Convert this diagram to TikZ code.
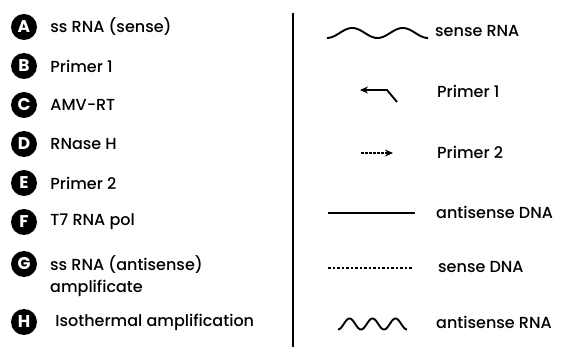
\documentclass[tikz,border=0pt]{standalone}
\usepackage{fontspec}
\setmainfont{Poppins}[UprightFont={* Medium}, BoldFont={* Bold}]
\usetikzlibrary{arrows.meta,positioning}

\tikzset{
  badge/.style={circle, fill=black, text=white, font=\bfseries\fontsize{17}{19}\selectfont, inner sep=0pt, minimum size=26pt},
  itemtext/.style={anchor=west, font=\fontsize{16}{22}\selectfont, inner sep=0pt},
  strand/.style={line width=1.9pt},
}

\begin{document}
\begin{tikzpicture}[x=1pt,y=-1pt]
\useasboundingbox (0,0) rectangle (565,352);
% key letters
\node[badge] (A) at (24,27) {A};
\node[itemtext, right=13pt of A] (Atext) {ss RNA (sense)};
\node[badge] (B) at (24,66) {B};
\node[itemtext, right=13pt of B] (Btext) {Primer 1};
\node[badge] (C) at (24,105) {C};
\node[itemtext, right=13pt of C] (Ctext) {AMV-RT};
\node[badge] (D) at (24,144) {D};
\node[itemtext, right=13pt of D] (Dtext) {RNase H};
\node[badge] (E) at (24,183) {E};
\node[itemtext, right=13pt of E] (Etext) {Primer 2};
\node[badge] (F) at (24,222) {F};
\node[itemtext, right=13pt of F] (Ftext) {T7 RNA pol};
\node[badge] (G) at (24,264) {G};
\node[itemtext, align=left, anchor=north west] (Gtext) at (50,255) {ss RNA (antisense)\\amplificate};
\node[badge] (H) at (24,322) {H};
\node[itemtext, right=18pt of H] (Htext) {Isothermal amplification};
% divider
\coordinate (top) at (293,13);
\coordinate (bot) at (293,347);
\draw[line width=2.4pt] (top) -- (bot);
% legend symbols
\draw[strand, domain=0:2, samples=80, variable=\t] plot ({327+50.5*\t},{33+5*cos(360*\t)});
\node[itemtext] (senseRNA) at (435,31) {sense RNA};
\coordinate (p1a) at (397,102);
\coordinate (p1b) at (387,90);
\coordinate (p1c) at (360,90);
\draw[strand, -{Stealth[length=8pt,width=7pt]}] (p1a) -- (p1b) -- (p1c);
\node[itemtext] (primerone) at (437,91) {Primer 1};
\coordinate (p2a) at (361,153);
\coordinate (p2b) at (393,153);
\draw[strand, dash pattern=on 2.5pt off 1.5pt, -{Stealth[length=8pt,width=7pt]}] (p2a) -- (p2b);
\node[itemtext] (primertwo) at (437,152) {Primer 2};
\coordinate (adna1) at (328,213);
\coordinate (adna2) at (415,213);
\draw[line width=2pt] (adna1) -- (adna2);
\node[itemtext] (antiDNA) at (436,212) {antisense DNA};
\coordinate (sdna1) at (328,268);
\coordinate (sdna2) at (413,268);
\draw[line width=2pt, dash pattern=on 2.5pt off 2pt] (sdna1) -- (sdna2);
\node[itemtext] (senseDNA) at (438,267) {sense DNA};
\draw[strand, domain=0:3, samples=90, variable=\t] plot ({338+23*\t},{324+5.5*cos(360*\t)});
\node[itemtext] (antiRNA) at (436,322) {antisense RNA};
\end{tikzpicture}
\end{document}
